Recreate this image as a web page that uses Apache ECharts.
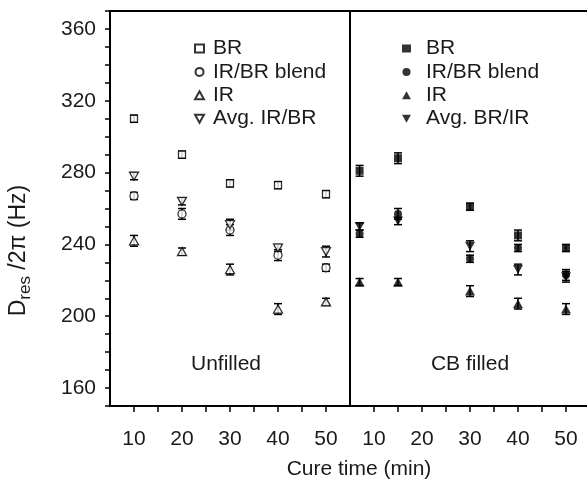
<!DOCTYPE html>
<html><head><meta charset="utf-8">
<script src="https://cdn.jsdelivr.net/npm/echarts@6/dist/echarts.min.js"></script>
<style>html,body{margin:0;padding:0;background:#fff}#c{width:587px;height:483px}</style>
</head><body><div id="c"></div>
<script>
// ---- data ----
const timesUnfilled = [10, 20, 30, 40, 50];
const timesFilled = [7, 15, 30, 40, 50];

const unfilledBR = [310, 290, 274, 273, 268];
const unfilledBlend = [267, 257, 248, 234, 227];
const unfilledIR = [242, 236, 226, 204, 208];
const unfilledAvg = [278, 264, 251, 238, 236];

const unfilledBRErr = [2, 2, 2, 2, 2];
const unfilledBlendErr = [2, 3, 3, 3, 2];
const unfilledIRErr = [3, 2, 3, 3, 2];
const unfilledAvgErr = [2, 2, 3, 2, 3];

const filledBR = [281, 288, 261, 245, 238];
const filledBlend = [246, 257, 232, 238, 223];
const filledIR = [219, 219, 214, 207, 204];
const filledAvg = [250, 253, 239, 226, 222];

const filledBRErr = [3, 3, 2, 3, 2];
const filledBlendErr = [2, 3, 2, 2, 3];
const filledIRErr = [2, 2, 3, 3, 3];
const filledAvgErr = [2, 2, 3, 3, 3];

const xTickLabels = [10, 20, 30, 40, 50];
const yTickLabels = [160, 200, 240, 280, 320, 360];

const legendUnfilled = ['BR', 'IR/BR blend', 'IR', 'Avg. IR/BR'];
const legendFilled = ['BR', 'IR/BR blend', 'IR', 'Avg. BR/IR'];

// ---- chart ----
const FONT = '"Liberation Sans", Arial, sans-serif';
const FS = 21;
const TXT = '#1a1a1a';
const SQ = 'rect';
const CIRC = 'circle';
const UP = 'path://M5,0L10,9L0,9Z';
const DOWN = 'path://M0,0L10,0L5,9Z';
const shapes = [SQ, CIRC, UP, DOWN];
const sizesHollow = [[7, 7], [8, 8], [9, 8], [9, 8]];
const sizesFilled = [[8, 8], [8, 8], [10, 9], [10, 9]];

function pts(times, vals) { return times.map((t, i) => [t, vals[i]]); }

function scatter(name, idx, times, vals, k, filled) {
  return {
    type: 'scatter', name, xAxisIndex: idx, yAxisIndex: idx,
    data: pts(times, vals), symbol: shapes[k], symbolSize: filled ? sizesFilled[k] : sizesHollow[k],
    itemStyle: filled ? { color: '#000' }
                      : { color: '#fff', borderColor: '#000', borderWidth: 1.3 },
    z: 3, silent: true
  };
}

function errSeries(idx, times, vals, errs) {
  return {
    type: 'custom', xAxisIndex: idx, yAxisIndex: idx, silent: true, z: 2,
    data: times.map((t, i) => [t, vals[i] - errs[i], vals[i] + errs[i]]),
    encode: { x: 0, y: [1, 2] },
    renderItem: (params, api) => {
      const lo = api.coord([api.value(0), api.value(1)]);
      const hi = api.coord([api.value(0), api.value(2)]);
      const w = 4;
      const st = { stroke: '#000', lineWidth: 1.5 };
      return {
        type: 'group', children: [
          { type: 'line', shape: { x1: lo[0], y1: lo[1], x2: hi[0], y2: hi[1] }, style: st },
          { type: 'line', shape: { x1: lo[0] - w, y1: lo[1], x2: lo[0] + w, y2: lo[1] }, style: st },
          { type: 'line', shape: { x1: hi[0] - w, y1: hi[1], x2: hi[0] + w, y2: hi[1] }, style: st }
        ]
      };
    }
  };
}

const uVals = [unfilledBR, unfilledBlend, unfilledIR, unfilledAvg];
const uErrs = [unfilledBRErr, unfilledBlendErr, unfilledIRErr, unfilledAvgErr];
const fVals = [filledBR, filledBlend, filledIR, filledAvg];
const fErrs = [filledBRErr, filledBlendErr, filledIRErr, filledAvgErr];

const series = [];
const uNames = legendUnfilled.map(n => n + ' (unfilled)');
const fNames = legendFilled.map(n => n + ' (filled)');
for (let k = 0; k < 4; k++) {
  series.push(errSeries(0, timesUnfilled, uVals[k], uErrs[k]));
  series.push(scatter(uNames[k], 0, timesUnfilled, uVals[k], k, false));
  series.push(errSeries(1, timesFilled, fVals[k], fErrs[k]));
  series.push(scatter(fNames[k], 1, timesFilled, fVals[k], k, true));
}

function xAxis(idx) {
  return {
    type: 'value', gridIndex: idx, min: 5, max: 55, interval: 5,
    axisLine: { show: true, onZero: false, lineStyle: { color: '#000', width: 2 } },
    axisTick: { show: true, inside: false, length: 6, lineStyle: { color: '#000', width: 1.5 } },
    axisLabel: {
      margin: 23, color: TXT, fontSize: FS, fontFamily: FONT,
      formatter: v => xTickLabels.indexOf(v) >= 0 ? String(v) : '',
      showMinLabel: false, showMaxLabel: false, hideOverlap: false
    },
    splitLine: { show: false }
  };
}
function yAxis(idx, show) {
  return {
    type: 'value', gridIndex: idx, min: 150, max: 370, interval: 10, show,
    name: show ? '{a|D}{b|res}{a| /2π (Hz)}' : '',
    nameLocation: 'middle', nameGap: 76, nameRotate: 90,
    nameTextStyle: {
      padding: [0, 84, 0, 0],
      rich: {
        a: { fontSize: 23, fontFamily: FONT, color: TXT, lineHeight: 30, verticalAlign: 'middle' },
        b: { fontSize: 17, fontFamily: FONT, color: TXT, lineHeight: 17, padding: [12, 0, 0, 0], verticalAlign: 'bottom' }
      }
    },
    axisLine: { show: true, onZero: false, lineStyle: { color: '#000', width: 2 } },
    axisTick: { show: true, inside: false, length: 5, lineStyle: { color: '#000', width: 1.5 } },
    axisLabel: {
      margin: 14, color: TXT, fontSize: FS, fontFamily: FONT,
      formatter: v => yTickLabels.indexOf(v) >= 0 ? String(v) : ''
    },
    splitLine: { show: false }
  };
}

function legend(names, left, pad) {
  return {
    orient: 'vertical', left, top: 33, itemWidth: 9, itemHeight: 8, itemGap: 2.4,
    data: names, selectedMode: false,
    formatter: n => n.replace(/ \((un)?filled\)$/, ''),
    textStyle: { fontSize: FS, fontFamily: FONT, color: TXT, lineHeight: 21, padding: [0, 0, 0, pad] }
  };
}

const chart = echarts.init(document.getElementById('c'), null, { renderer: 'canvas' });
chart.setOption({
  animation: false,
  backgroundColor: '#fff',
  grid: [
    { left: 110, top: 11, width: 240, height: 395, show: true, borderColor: '#000', borderWidth: 2, containLabel: false, outerBoundsMode: 'none' },
    { left: 350, top: 11, width: 240, height: 395, show: true, borderColor: '#000', borderWidth: 2, containLabel: false, outerBoundsMode: 'none' }
  ],
  xAxis: [xAxis(0), xAxis(1)],
  yAxis: [yAxis(0, true), yAxis(1, false)],
  legend: [legend(uNames, 189, 4), legend(fNames, 397, 10)],
  graphic: [
    { type: 'text', style: { text: 'Unfilled', x: 226, y: 364, align: 'center', verticalAlign: 'middle', fontSize: FS, fontFamily: FONT, fill: TXT } },
    { type: 'text', style: { text: 'CB filled', x: 470, y: 364, align: 'center', verticalAlign: 'middle', fontSize: FS, fontFamily: FONT, fill: TXT } },
    { type: 'text', style: { text: 'Cure time (min)', x: 359, y: 469, align: 'center', verticalAlign: 'middle', fontSize: FS, fontFamily: FONT, fill: TXT } }
  ],
  series
});
</script></body></html>
